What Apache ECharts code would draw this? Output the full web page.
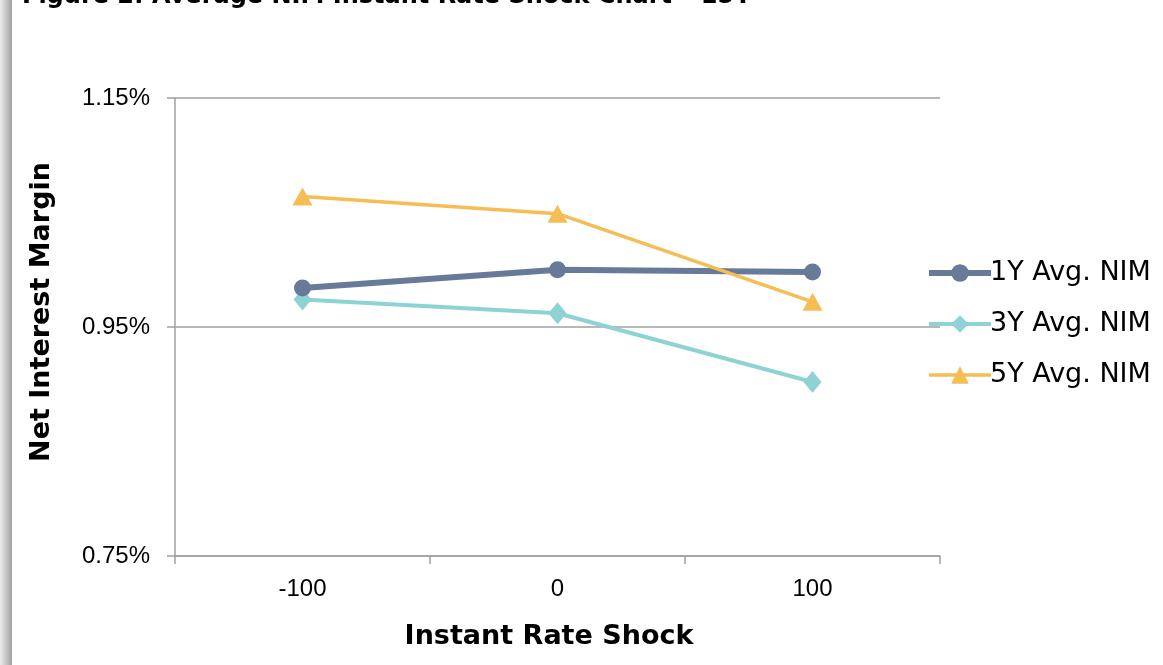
<!DOCTYPE html>
<html><head><meta charset="utf-8">
<script src="https://cdn.jsdelivr.net/npm/echarts@6/dist/echarts.min.js"></script>
<style>html,body{margin:0;padding:0;background:#fff}#c{width:1163px;height:665px}</style>
</head><body><div id="c"></div>
<script>
const categories = ['-100', '0', '100'];
const nim1Y = [0.984, 1.000, 0.998];
const nim3Y = [0.974, 0.962, 0.902];
const nim5Y = [1.064, 1.049, 0.972];

const C1 = '#687a99', C3 = '#8ed3d4', C5 = '#f5bd53';
const chart = echarts.init(document.getElementById('c'));
chart.setOption({
  animation: false,
  backgroundColor: '#fff',
  graphic: [
    {type: 'rect', left: 0, top: 0, shape: {width: 12, height: 665},
     style: {fill: new echarts.graphic.LinearGradient(0, 0, 1, 0, [
       {offset: 0, color: '#ececec'}, {offset: 0.7, color: '#b8b8b8'}, {offset: 1, color: '#a0a0a0'}])}},
    {type: 'text', x: 22, y: -15,
     style: {text: 'Figure 2: Average NIM Instant Rate Shock Chart \u2013 15Y', font: 'bold 24px "DejaVu Sans"', fill: '#000'}},
    {type: 'text', x: 42, y: 312, rotation: Math.PI / 2,
     style: {text: 'Net Interest Margin', font: 'bold 27px "DejaVu Sans"', fill: '#000', align: 'center', verticalAlign: 'middle'}},
    {type: 'text', x: 549, y: 637,
     style: {text: 'Instant Rate Shock', font: 'bold 27px "DejaVu Sans"', fill: '#000', align: 'center', verticalAlign: 'middle'}}
  ],
  grid: {left: 175, right: 223, top: 98, bottom: 109, containLabel: false},
  legend: {
    orient: 'vertical', left: 921, top: 253,
    itemWidth: 62, itemHeight: 22, itemGap: 21,
    textStyle: {fontFamily: 'DejaVu Sans', fontSize: 27, color: '#000', lineHeight: 30, padding: [0,0,0,-6]},
    data: [
      {name: '1Y Avg. NIM', lineStyle: {color: C1, width: 6}, itemStyle: {color: C1}},
      {name: '3Y Avg. NIM', lineStyle: {color: C3, width: 4}, itemStyle: {color: C3}},
      {name: '5Y Avg. NIM', lineStyle: {color: C5, width: 3.5}, itemStyle: {color: C5}}
    ]
  },
  xAxis: {
    type: 'category', data: categories, boundaryGap: true,
    axisLine: {lineStyle: {color: '#a0a0a0', width: 1.5}},
    axisTick: {show: true, length: 8, alignWithLabel: false, lineStyle: {color: '#a0a0a0', width: 1.5}},
    axisLabel: {margin: 21, fontFamily: 'Liberation Sans', fontSize: 24, color: '#000'}
  },
  yAxis: {
    type: 'value', min: 0.75, max: 1.15, interval: 0.2,
    axisLine: {show: true, lineStyle: {color: '#a0a0a0', width: 1.5}},
    axisTick: {show: true, length: 8, lineStyle: {color: '#a0a0a0', width: 1.5}},
    splitLine: {show: true, lineStyle: {color: '#a0a0a0', width: 1.5}},
    axisLabel: {margin: 25, fontFamily: 'Liberation Sans', fontSize: 24, color: '#000',
      formatter: v => v.toFixed(2) + '%'}
  },
  series: [
    {name: '1Y Avg. NIM', type: 'line', data: nim1Y, symbol: 'circle', symbolSize: 17,
     lineStyle: {color: C1, width: 6}, itemStyle: {color: C1}, z: 3},
    {name: '3Y Avg. NIM', type: 'line', data: nim3Y, symbol: 'diamond', symbolSize: [18, 22],
     lineStyle: {color: C3, width: 4}, itemStyle: {color: C3}, z: 2},
    {name: '5Y Avg. NIM', type: 'line', data: nim5Y, symbol: 'triangle', symbolSize: [20, 18],
     lineStyle: {color: C5, width: 3.5}, itemStyle: {color: C5}, z: 4}
  ]
});
</script></body></html>
